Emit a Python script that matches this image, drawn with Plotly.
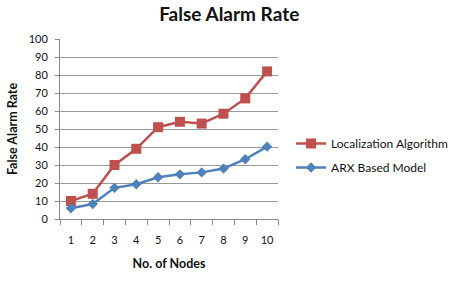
import plotly.graph_objects as go

nodes = ["1", "2", "3", "4", "5", "6", "7", "8", "9", "10"]
localization = [10, 14, 30, 39, 51, 54, 53, 58.5, 67, 82]
arx = [6, 8.3, 17.3, 19.3, 23.2, 24.8, 25.9, 28, 33.2, 40.2]
yticks = [0, 10, 20, 30, 40, 50, 60, 70, 80, 90, 100]

FONT = "Lato"

fig = go.Figure()
fig.add_trace(go.Scatter(
    x=nodes, y=localization, name="Localization Algorithm", mode="lines+markers",
    line=dict(color="#C0504D", width=2.5),
    marker=dict(symbol="square", size=10, color="#C0504D"),
    legendgroup="a"))
fig.add_trace(go.Scatter(
    x=nodes, y=arx, name="ARX Based Model", mode="lines+markers",
    line=dict(color="#4F81BD", width=2.5),
    marker=dict(symbol="diamond", size=8, color="#4F81BD"),
    legendgroup="b"))

fig.update_layout(
    width=465, height=300,
    margin=dict(l=57, r=174, t=39, b=81),
    paper_bgcolor="white", plot_bgcolor="white",
    font=dict(family=FONT, size=11, color="#111"),
    title=dict(text="<b>False Alarm Rate</b>", x=0.493, xanchor="center",
               y=0.952, yanchor="middle", font=dict(size=19, color="#111", family=FONT)),
    legend=dict(x=1.06, y=0.50, xanchor="left", yanchor="top",
                font=dict(size=12, color="#111"), tracegroupgap=5,
                bgcolor="rgba(0,0,0,0)"),
    showlegend=True,
)
fig.update_xaxes(
    type="category", range=[-0.5, 9.5], tickangle=0,
    showgrid=False, showline=True, linecolor="#888", linewidth=1,
    ticks="outside", tickson="boundaries", ticklen=5, tickcolor="#888",
    ticklabelstandoff=11,
    title=dict(text="<b>No. of Nodes</b>", font=dict(size=12.5), standoff=14),
    tickfont=dict(size=11), fixedrange=True,
)
fig.update_yaxes(
    range=[0, 100], tickvals=yticks, showgrid=True, gridcolor="#999", gridwidth=1,
    showline=True, linecolor="#888", linewidth=1,
    ticks="outside", ticklen=4, tickcolor="#888", zeroline=False,
    ticklabelstandoff=5,
    title=dict(text="<b>False Alarm Rate</b>", font=dict(size=12.5), standoff=8),
    tickfont=dict(size=11),
)

fig.write_html("out.html")
